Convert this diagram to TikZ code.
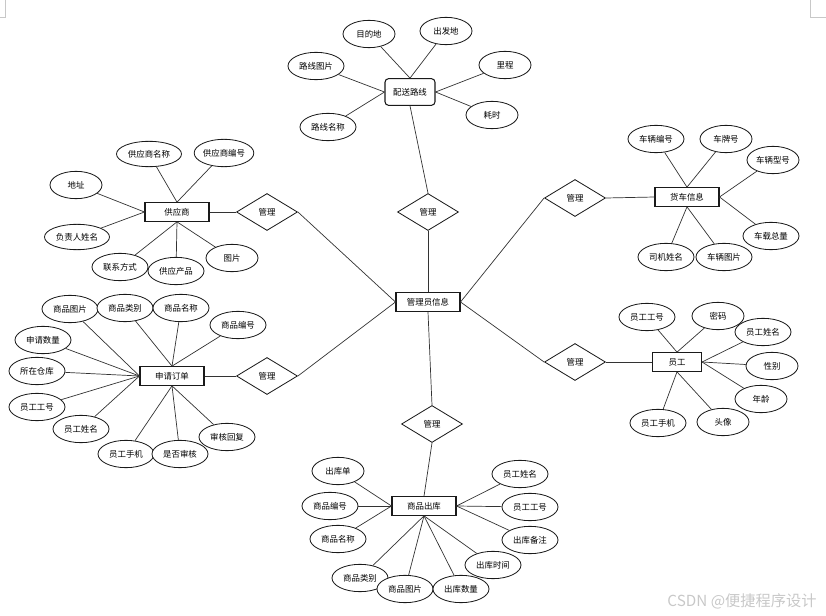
\documentclass[tikz,border=0pt]{standalone}
\usepackage{fontspec}
\setmainfont{Noto Sans CJK SC}
\usetikzlibrary{shapes.geometric}
\definecolor{inkline}{HTML}{333333}
\definecolor{inkedge}{HTML}{1A1A1A}
\definecolor{markgray}{HTML}{C8C8C8}
\tikzset{
  entbox/.style={
    rectangle,
    draw=inkedge,
    fill=white,
    line width=0.9pt,
    minimum width=1.92cm,
    minimum height=0.56cm,
    inner sep=0pt,
    font=\fontsize{7.2}{8}\selectfont
  },
  routebox/.style={entbox,rounded corners=3pt,minimum width=1.5cm,minimum height=0.8cm},
  attrnode/.style={
    ellipse,
    draw=inkedge,
    fill=white,
    line width=0.7pt,
    minimum width=1.68cm,
    minimum height=0.82cm,
    inner sep=0pt,
    font=\fontsize{7.2}{8}\selectfont
  },
  attrsmall/.style={attrnode,minimum width=1.56cm},
  attrwide/.style={attrnode,minimum width=1.95cm,minimum height=0.76cm},
  relnode/.style={
    diamond,
    draw=inkedge,
    fill=white,
    line width=0.7pt,
    minimum width=1.83cm,
    minimum height=1.11cm,
    inner sep=0pt,
    font=\fontsize{7.2}{8}\selectfont
  },
  erline/.style={draw=inkline,line width=0.6pt},
  cornermark/.style={draw=markgray,line width=0.6pt}
}

\begin{document}
\begin{tikzpicture}[x=0.03cm,y=-0.03cm]
  \useasboundingbox (0,0) rectangle (826,616);

  \node[entbox]    (admin)    at (428,302) {管理员信息};
  \node[relnode]   (rRoute)   at (428,212) {管理};
  \node[relnode]   (rSupply)  at (267,212) {管理};
  \node[relnode]   (rOrder)   at (267,376) {管理};
  \node[relnode]   (rOut)     at (432,424) {管理};
  \node[relnode]   (rTruck)   at (575,198) {管理};
  \node[relnode]   (rStaff)   at (575,362) {管理};

  \node[routebox]  (route)    at (410,92)  {配送路线};
  \node[attrsmall] (dest)     at (369,34)  {目的地};
  \node[attrsmall] (origin)   at (446,31)  {出发地};
  \node[attrnode]  (routePic) at (316,66)  {路线图片};
  \node[attrnode]  (routeName) at (328,127) {路线名称};
  \node[attrsmall] (mileage)  at (505,65)  {里程};
  \node[attrsmall] (duration) at (492,115) {耗时};

  \node[entbox]    (supplier) at (177,212) {供应商};
  \node[attrwide]  (supName)  at (149,154) {供应商名称};
  \node[attrnode]  (supNo)    at (224,153) {供应商编号};
  \node[attrsmall] (address)  at (76,185)  {地址};
  \node[attrwide]  (manager)  at (77,237)  {负责人姓名};
  \node[attrnode]  (contact)  at (120,267) {联系方式};
  \node[attrnode]  (product)  at (176,271) {供应产品};
  \node[attrsmall] (supPic)   at (232,258) {图片};

  \node[entbox]    (order)    at (172,376) {申请订单};
  \node[attrnode]  (oGoodsPic)  at (70,309)  {商品图片};
  \node[attrnode]  (oGoodsType) at (125,308) {商品类别};
  \node[attrnode]  (oGoodsName) at (181,308) {商品名称};
  \node[attrnode]  (oGoodsNo)   at (238,325) {商品编号};
  \node[attrnode]  (oAmount)    at (43,340)  {申请数量};
  \node[attrnode]  (oStore)     at (37,371)  {所在仓库};
  \node[attrnode]  (oStaffNo)   at (37,407)  {员工工号};
  \node[attrnode]  (oStaffName) at (81,429)  {员工姓名};
  \node[attrnode]  (oStaffTel)  at (126,454) {员工手机};
  \node[attrnode]  (oChecked)   at (180,454) {是否审核};
  \node[attrnode]  (oReply)     at (227,437) {审核回复};

  \node[entbox]    (outbound) at (424,506) {商品出库};
  \node[attrsmall] (outSheet)   at (338,471) {出库单};
  \node[attrnode]  (gGoodsNo)   at (330,506) {商品编号};
  \node[attrnode]  (gGoodsName) at (338,539) {商品名称};
  \node[attrnode]  (gGoodsType) at (360,578) {商品类别};
  \node[attrnode]  (gGoodsPic)  at (405,589) {商品图片};
  \node[attrnode]  (outAmount)  at (461,589) {出库数量};
  \node[attrnode]  (outTime)    at (493,565) {出库时间};
  \node[attrnode]  (outNote)    at (530,540) {出库备注};
  \node[attrnode]  (gStaffNo)   at (530,507) {员工工号};
  \node[attrnode]  (gStaffName) at (520,474) {员工姓名};

  \node[entbox]    (truck)    at (687,197) {货车信息};
  \node[attrnode]  (carNo)    at (656,139) {车辆编号};
  \node[attrsmall] (plate)    at (726,139) {车牌号};
  \node[attrsmall] (carModel) at (773,160) {车辆型号};
  \node[attrnode]  (load)     at (771,236) {车载总量};
  \node[attrnode]  (driver)   at (666,257) {司机姓名};
  \node[attrnode]  (carPic)   at (724,257) {车辆图片};

  \node[entbox,minimum width=1.47cm] (staff) at (677,362) {员工};
  \node[attrnode]  (sNo)      at (647,317) {员工工号};
  \node[attrsmall] (sPwd)     at (718,316) {密码};
  \node[attrnode]  (sName)    at (763,332) {员工姓名};
  \node[attrsmall] (sSex)     at (772,366) {性别};
  \node[attrsmall] (sAge)     at (761,399) {年龄};
  \node[attrsmall] (sPhoto)   at (723,422) {头像};
  \node[attrnode]  (sTel)     at (658,423) {员工手机};

  \node[text=markgray,font=\fontsize{13}{14}\selectfont] (mark) at (742,601) {CSDN @便捷程序设计};

  \draw[erline] (admin.north) -- (rRoute.south);
  \draw[erline] (rRoute.north) -- (route.south);
  \draw[erline] (admin.west) -- (rSupply.east);
  \draw[erline] (rSupply.west) -- (supplier.east);
  \draw[erline] (admin.west) -- (rOrder.east);
  \draw[erline] (rOrder.west) -- (order.east);
  \draw[erline] (admin.south) -- (rOut.north);
  \draw[erline] (rOut.south) -- (outbound.north);
  \draw[erline] (admin.east) -- (rTruck.west);
  \draw[erline] (rTruck.east) -- (truck.west);
  \draw[erline] (admin.east) -- (rStaff.west);
  \draw[erline] (rStaff.east) -- (staff.west);

  \draw[erline] (dest) -- (route.north);
  \draw[erline] (origin) -- (route.north);
  \draw[erline] (routePic) -- (route.west);
  \draw[erline] (routeName) -- (route.west);
  \draw[erline] (mileage) -- (route.east);
  \draw[erline] (duration) -- (route.east);

  \draw[erline] (supName) -- (supplier.north);
  \draw[erline] (supNo) -- (supplier.north);
  \draw[erline] (address) -- (supplier.west);
  \draw[erline] (manager) -- (supplier.west);
  \draw[erline] (contact) -- (supplier.south);
  \draw[erline] (product) -- (supplier.south);
  \draw[erline] (supPic) -- (supplier.south);

  \draw[erline] (oGoodsPic) -- (order.west);
  \draw[erline] (oGoodsType) -- (order.north);
  \draw[erline] (oGoodsName) -- (order.north);
  \draw[erline] (oGoodsNo) -- (order.north);
  \draw[erline] (oAmount) -- (order.west);
  \draw[erline] (oStore) -- (order.west);
  \draw[erline] (oStaffNo) -- (order.west);
  \draw[erline] (oStaffName) -- (order.west);
  \draw[erline] (oStaffTel) -- (order.south);
  \draw[erline] (oChecked) -- (order.south);
  \draw[erline] (oReply) -- (order.south);

  \draw[erline] (outSheet) -- (outbound.west);
  \draw[erline] (gGoodsNo) -- (outbound.west);
  \draw[erline] (gGoodsName) -- (outbound.west);
  \draw[erline] (gGoodsType) -- (outbound.south);
  \draw[erline] (gGoodsPic) -- (outbound.south);
  \draw[erline] (outAmount) -- (outbound.south);
  \draw[erline] (outTime) -- (outbound.south);
  \draw[erline] (outNote) -- (outbound.east);
  \draw[erline] (gStaffNo) -- (outbound.east);
  \draw[erline] (gStaffName) -- (outbound.east);

  \draw[erline] (carNo) -- (truck.north);
  \draw[erline] (plate) -- (truck.north);
  \draw[erline] (carModel) -- (truck.east);
  \draw[erline] (load) -- (truck.east);
  \draw[erline] (driver) -- (truck.south);
  \draw[erline] (carPic) -- (truck.south);

  \draw[erline] (sNo) -- (staff.north);
  \draw[erline] (sPwd) -- (staff.north);
  \draw[erline] (sName) -- (staff.east);
  \draw[erline] (sSex) -- (staff.east);
  \draw[erline] (sAge) -- (staff.east);
  \draw[erline] (sPhoto) -- (staff.south);
  \draw[erline] (sTel) -- (staff.south);

  \draw[cornermark] (0,17) -- (5,17) -- (5,0);
  \draw[cornermark] (810,0) -- (810,17) -- (826,17);
\end{tikzpicture}
\end{document}
